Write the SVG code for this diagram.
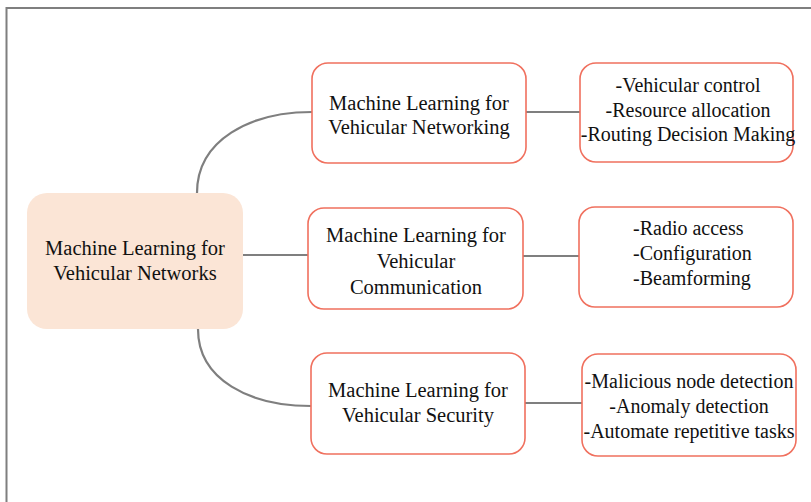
<svg xmlns="http://www.w3.org/2000/svg" width="811" height="502" viewBox="0 0 811 502">
<style>
.frame{fill:none;stroke:#7f7f7f;stroke-width:2}
.conn{fill:none;stroke:#7f7f7f;stroke-width:2.2}
.box{fill:#ffffff;stroke:#f0705e;stroke-width:1.6}
.root{fill:#fbe5d6;stroke:none}
text{font-family:'Liberation Serif','DejaVu Serif',serif;fill:#111;text-anchor:middle}
.tt{font-size:20.5px}
.tl{font-size:20px}
.left{text-anchor:start}
</style>
<rect width="811" height="502" fill="#ffffff"/>
<path class="frame" d="M6.5,502 V8 H811"/>
<g id="connectors">
<path class="conn" d="M197,193 C197,140 250,112 312,112"/>
<path class="conn" d="M243,255 H308"/>
<path class="conn" d="M198,329 C198,380 250,406 311,406"/>
<path class="conn" d="M526,112 H580"/>
<path class="conn" d="M523,256 H579"/>
<path class="conn" d="M525,403 H582"/>
</g>
<g id="root" font-family="Liberation Serif, serif">
<rect class="root" x="27" y="193" width="216" height="136" rx="20"/>
<text class="tt" x="135" y="255">Machine Learning for</text>
<text class="tt" x="135" y="280">Vehicular Networks</text>
</g>
<g id="networking" font-family="Liberation Serif, serif">
<rect class="box" x="312" y="63" width="214" height="100" rx="16"/>
<text class="tt" x="419" y="110">Machine Learning for</text>
<text class="tt" x="419" y="134">Vehicular Networking</text>
</g>
<g id="communication" font-family="Liberation Serif, serif">
<rect class="box" x="308" y="208" width="215" height="101" rx="16"/>
<text class="tt" x="416" y="242">Machine Learning for</text>
<text class="tt" x="416" y="268">Vehicular</text>
<text class="tt" x="416" y="294">Communication</text>
</g>
<g id="security" font-family="Liberation Serif, serif">
<rect class="box" x="311" y="353" width="214" height="101" rx="16"/>
<text class="tt" x="418" y="397">Machine Learning for</text>
<text class="tt" x="418" y="422">Vehicular Security</text>
</g>
<g id="networking-tasks" font-family="Liberation Serif, serif">
<rect class="box" x="580" y="63" width="213" height="99" rx="16"/>
<text class="tl" x="688" y="92">-Vehicular control</text>
<text class="tl" x="688" y="117">-Resource allocation</text>
<text class="tl" x="688" y="141">-Routing Decision Making</text>
</g>
<g id="communication-tasks" font-family="Liberation Serif, serif">
<rect class="box" x="579" y="207" width="214" height="100" rx="16"/>
<text class="tl left" x="633" y="235">-Radio access</text>
<text class="tl left" x="633" y="260">-Configuration</text>
<text class="tl left" x="633" y="285">-Beamforming</text>
</g>
<g id="security-tasks" font-family="Liberation Serif, serif">
<rect class="box" x="582" y="354" width="214" height="102" rx="16"/>
<text class="tl" x="689" y="388">-Malicious node detection</text>
<text class="tl" x="689" y="413">-Anomaly detection</text>
<text class="tl" x="689" y="438">-Automate repetitive tasks</text>
</g>
</svg>
